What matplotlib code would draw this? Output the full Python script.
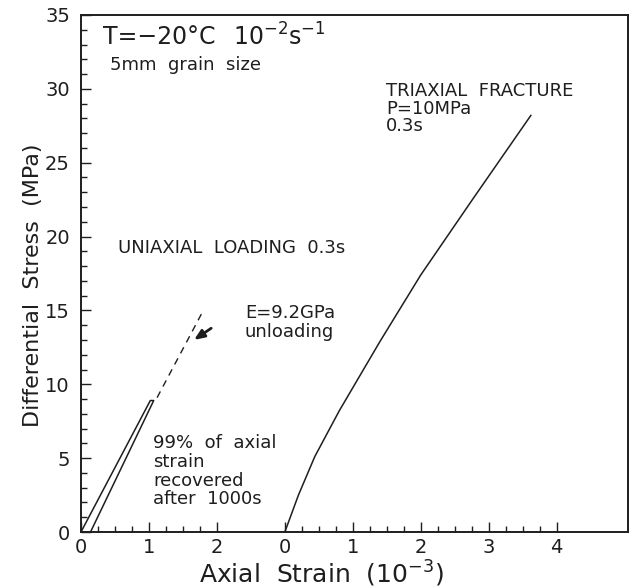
import matplotlib
matplotlib.use("Agg")
import matplotlib.pyplot as plt
import numpy as np

plt.rcParams['font.family'] = ['DejaVu Sans']

# ── DATA ─────────────────────────────────────────────────────────────────────
# uniaxial loading / unloading loop (strain in 1e-3, stress in MPa)
uni_strain = [0.0, 1.02, 1.07, 0.14]
uni_stress = [0.0, 8.9, 8.9, 0.0]
# dashed E=9.2GPa extension of the unloading line
ext_strain = [1.12, 1.80]
ext_stress = [9.1, 15.0]
# triaxial fracture curve, drawn on the second (offset) strain scale
tri_offset = 3.0
tri_strain = [0.0, 0.2, 0.44, 0.8, 1.4, 2.0, 2.76, 3.62]
tri_stress = [0.0, 2.5, 5.1, 8.2, 12.9, 17.4, 22.5, 28.2]

tick_pos = [0, 1, 2, 3, 4, 5, 6, 7]
tick_lab = ['0', '1', '2', '0', '1', '2', '3', '4']
minor_pos = [p for p in np.arange(0, 7.01, 0.25) if not (2 < p < 3) and p % 1 != 0]

ink = '#1e1e1e'

fig = plt.figure(figsize=(6.31, 5.88), dpi=100)
W, H = 631, 588
ax = fig.add_axes([81 / W, (H - 532) / H, (628 - 81) / W, (532 - 15) / H])

ax.plot(uni_strain, uni_stress, color=ink, lw=1.1)
ax.plot(ext_strain, ext_stress, color=ink, lw=1.0, ls=(0, (5, 4)))
ax.plot([tri_offset + s for s in tri_strain], tri_stress, color=ink, lw=1.1)

ax.annotate('', xy=(1.63, 12.9), xytext=(1.95, 13.9),
            arrowprops=dict(arrowstyle='-|>,head_length=0.6,head_width=0.25',
                            color=ink, lw=2))

ax.set_xlim(0, 8.05)
ax.set_ylim(0, 35)
ax.set_xticks(tick_pos)
ax.set_xticklabels(tick_lab)
ax.set_xticks(minor_pos, minor=True)
ax.set_yticks(range(0, 36, 5))
ax.set_yticks(range(0, 36, 1), minor=True)
ax.tick_params(which='both', direction='in', colors=ink, width=1.0,
               top=False, right=False, labelsize=14)
ax.tick_params(which='major', length=7.5)
ax.tick_params(which='minor', length=4)
ax.tick_params(axis='x', pad=4)
ax.tick_params(axis='y', pad=8)
for sp in ax.spines.values():
    sp.set_linewidth(1.4)
    sp.set_color(ink)

fig.text(321 / W, 1 - 583 / H, r'Axial  Strain  (10$^{-3}$)', ha='center',
         va='baseline', fontsize=18, color=ink)
fig.text(33 / W, 1 - 285 / H, 'Differential  Stress  (MPa)', ha='center',
         va='center', rotation=90, fontsize=16, color=ink)

ax.text(0.32, 33.5, 'T=−20°C', fontsize=17, color=ink, va='center')
ax.text(2.24, 33.5, r'10$^{-2}$s$^{-1}$', fontsize=17, color=ink, va='center')
ax.text(0.43, 31.6, '5mm  grain  size', fontsize=13, color=ink, va='center')

ax.text(4.49, 28.65, 'TRIAXIAL  FRACTURE\nP=10MPa\n0.3s', fontsize=13,
        color=ink, va='center', linespacing=0.95)

ax.text(0.54, 19.2, 'UNIAXIAL  LOADING  0.3s', fontsize=13, color=ink,
        va='center')
ax.text(2.41, 14.2, 'E=9.2GPa\nunloading', fontsize=13, color=ink,
        va='center', linespacing=1.05)

ax.text(1.06, 4.1, '99%  of  axial\nstrain\nrecovered\nafter  1000s',
        fontsize=13, color=ink, va='center', linespacing=1.05)

fig.savefig('out.png', dpi=100, facecolor='white')
